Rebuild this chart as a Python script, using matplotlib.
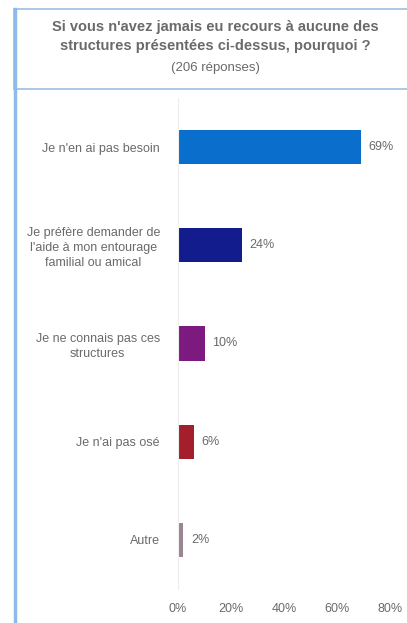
import matplotlib.pyplot as plt
from matplotlib.patches import Rectangle
from matplotlib.lines import Line2D

# Data
categories = [
    "Je n'en ai pas besoin",
    "Je préfère demander de\nl'aide à mon entourage\nfamilial ou amical",
    "Je ne connais pas ces\nstructures",
    "Je n'ai pas osé",
    "Autre",
]
values = [69, 24, 10, 6, 2]
colors = ["#0A6FCC", "#121C8C", "#7C1A80", "#A31F2B", "#9A8492"]
xticks = [0, 20, 40, 60, 80]

plt.rcParams['font.family'] = ['Liberation Sans', 'DejaVu Sans']
grey = "#6A6A6A"

fig = plt.figure(figsize=(4.07, 6.23), dpi=100)
W, H = 407, 623

# Title box and left rule
fig.patches.append(Rectangle((14 / W, 1 - 89 / H), 1.0, 80 / H, transform=fig.transFigure,
                             facecolor="white", edgecolor="#9DBFE0", linewidth=1.2))
fig.lines.append(Line2D([15 / W, 15 / W], [0, 1 - 9 / H], transform=fig.transFigure,
                       color="#8FBBE8", linewidth=2.5))
fig.text(215 / W, 1 - 36.5 / H,
         "Si vous n'avez jamais eu recours à aucune des\nstructures présentées ci-dessus, pourquoi ?",
         ha="center", va="center", fontsize=10.5, fontweight="bold", color=grey, linespacing=1.45)
fig.text(215 / W, 1 - 68 / H, "(206 réponses)", ha="center", va="center",
         fontsize=9.5, color=grey)

ax = fig.add_axes([178 / W, 1 - 589 / H, (390 - 178) / W, (589 - 98) / H])
y = list(range(len(categories)))
ax.barh(y, values, height=0.35, color=colors)
for yi, v in zip(y, values):
    ax.text(v + 3, yi, f"{v}%", va="center", ha="left", fontsize=9, color=grey)

ax.set_xlim(0, 80)
ax.set_ylim(4.5, -0.5)
ax.set_yticks(y)
ax.set_yticklabels(categories, fontsize=9, color=grey, linespacing=1.3,
                   multialignment="center")
ax.set_xticks(xticks)
ax.set_xticklabels([f"{t}%" for t in xticks], fontsize=9, color=grey)
ax.tick_params(axis="x", length=0, pad=10)
ax.tick_params(axis="y", length=0, pad=13)
for s in ["top", "right", "bottom"]:
    ax.spines[s].set_visible(False)
ax.spines["left"].set_color("#EEEEEE")
ax.spines["left"].set_linewidth(0.8)

fig.savefig("out.png", dpi=100)
